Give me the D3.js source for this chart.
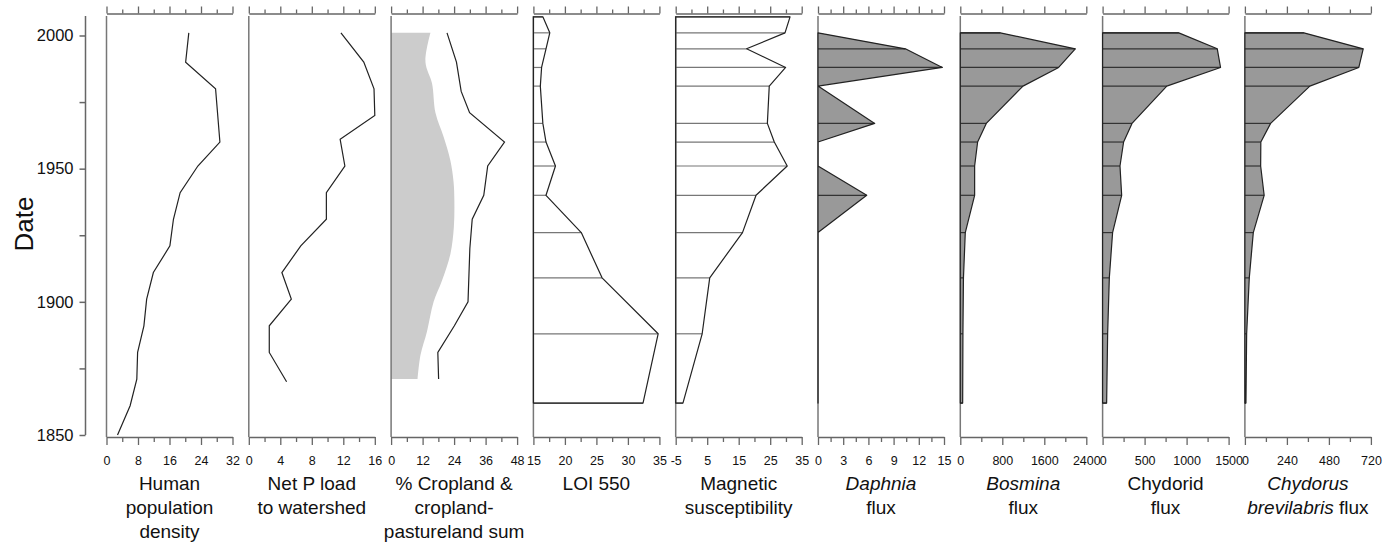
<!DOCTYPE html>
<html>
<head>
<meta charset="utf-8">
<script src="https://cdn.jsdelivr.net/npm/d3@7"></script>
<style>
  body { margin: 0; background: #fff; }
  svg text { font-family: "Liberation Sans", Arial, sans-serif; fill: #111; }
</style>
</head>
<body>
<div id="chart"></div>
<script>
// census-style series (decadal)
var popYears = [2001, 1990, 1980, 1960, 1951, 1941, 1931, 1921, 1911, 1901, 1891, 1881, 1871, 1861, 1850];
var popValues = [20.9, 20.1, 27.7, 28.8, 23.2, 18.7, 17.0, 16.1, 11.9, 10.2, 9.5, 7.9, 7.7, 6.0, 2.8];

var pLoadYears = [2001, 1990, 1980, 1970, 1961, 1951, 1941, 1931, 1921, 1911, 1901, 1891, 1881, 1870];
var pLoadValues = [11.7, 14.6, 15.9, 16.0, 11.6, 12.2, 9.85, 9.85, 6.6, 4.2, 5.4, 2.6, 2.6, 4.8];

// cropland (shaded) and cropland-pastureland sum (line)
var cropYears = [2001, 1990, 1982, 1971, 1962, 1953, 1945, 1938, 1928, 1918, 1908, 1900, 1889, 1880, 1871];
var cropValues = [15.0, 13.1, 15.6, 16.9, 20.0, 22.6, 23.8, 24.1, 23.9, 22.6, 19.4, 16.2, 13.7, 11.2, 10.1];
var sumYears = [2001, 1990, 1979, 1971, 1960, 1951, 1940, 1931, 1920, 1900, 1891, 1881, 1871];
var sumValues = [21.3, 24.9, 26.7, 29.9, 43.2, 36.8, 35.3, 30.9, 30.0, 29.3, 24.1, 17.8, 18.1];

// sediment core levels
var coreYears = [2007, 2001, 1995, 1988, 1981, 1967, 1960, 1951, 1940, 1926, 1909, 1888, 1862];
var loiValues = [16.5, 17.6, 17.0, 16.3, 16.1, 16.5, 17.0, 18.5, 17.0, 22.6, 25.9, 34.8, 32.4];
var magValues = [31.3, 29.7, 17.5, 29.9, 24.7, 24.1, 26.3, 30.4, 20.5, 16.2, 5.8, 3.4, -2.7];

// zooplankton levels
var fluxYears = [2001, 1995, 1988, 1981, 1967, 1960, 1951, 1940, 1926, 1909, 1888, 1862];
var daphniaValues = [0, 10.4, 14.8, 0, 6.75, 0, 0, 5.8, 0, 0, 0, 0];
var bosminaValues = [762, 2190, 1873, 1194, 495, 330, 273, 273, 95, 60, 50, 45];
var chydoridValues = [907, 1365, 1404, 764, 350, 250, 207, 227, 119, 80, 60, 48];
var chydorusValues = [337, 676, 651, 371, 147, 91, 90, 110, 48, 25, 10, 6];

// axis ticks
var popTicks = [0, 8, 16, 24, 32];
var pLoadTicks = [0, 4, 8, 12, 16];
var cropTicks = [0, 12, 24, 36, 48];
var loiTicks = [15, 20, 25, 30, 35];
var magTicks = [-5, 5, 15, 25, 35];
var daphniaTicks = [0, 3, 6, 9, 12, 15];
var bosminaTicks = [0, 800, 1600, 2400];
var chydoridTicks = [0, 500, 1000, 1500];
var chydorusTicks = [0, 240, 480, 720];
var dateTicks = [1850, 1875, 1900, 1925, 1950, 1975, 2000];

var width = 1397, height = 544;
var panelW = 126, panelStep = 142.3, firstLeft = 106.5;
var topY = 16, topAxisY = 13.5, bottomAxisY = 437;

var svg = d3.select("#chart").append("svg")
  .attr("width", width).attr("height", height);

var y = d3.scaleLinear().domain([1850, 2000]).range([435, 35.5]);

// Date axis
svg.append("g")
  .attr("transform", "translate(85.5,0)")
  .call(d3.axisLeft(y)
    .tickValues(dateTicks)
    .tickSizeInner(6).tickSizeOuter(0).tickPadding(6)
    .tickFormat(function(d) { return d % 50 == 0 ? d : ""; }))
  .call(function(g) {
    g.select(".domain").attr("d", "M0," + topY + "V435").attr("stroke", "#666").attr("stroke-width", 1.5);
    g.selectAll(".tick line").attr("stroke", "#666").attr("stroke-width", 1.5);
    g.selectAll("text").style("font-size", "16.5px").attr("fill", "#111");
  });

svg.append("text")
  .attr("transform", "translate(33,224)rotate(-90)")
  .style("text-anchor", "middle")
  .style("font-size", "26px")
  .text("Date");

var panels = [
  { type: "line", ticks: popTicks, title: [["Human"], ["population"], ["density"]],
    series: [{ years: popYears, values: popValues }] },
  { type: "line", ticks: pLoadTicks, title: [["Net P load"], ["to watershed"]],
    series: [{ years: pLoadYears, values: pLoadValues }] },
  { type: "crop", ticks: cropTicks, title: [["% Cropland &"], ["cropland-"], ["pastureland sum"]] },
  { type: "bars", ticks: loiTicks, title: [["LOI 550"]], years: coreYears, values: loiValues,
    fill: "none", bar: "#777" },
  { type: "bars", ticks: magTicks, title: [["Magnetic"], ["susceptibility"]], years: coreYears, values: magValues,
    fill: "none", bar: "#777" },
  { type: "bars", ticks: daphniaTicks, title: [[{ t: "Daphnia", i: true }], ["flux"]], years: fluxYears, values: daphniaValues,
    fill: "#999", bar: "#333" },
  { type: "bars", ticks: bosminaTicks, title: [[{ t: "Bosmina", i: true }], ["flux"]], years: fluxYears, values: bosminaValues,
    fill: "#999", bar: "#333" },
  { type: "bars", ticks: chydoridTicks, title: [["Chydorid"], ["flux"]], years: fluxYears, values: chydoridValues,
    fill: "#999", bar: "#333" },
  { type: "bars", ticks: chydorusTicks, title: [[{ t: "Chydorus", i: true }], [{ t: "brevilabris", i: true }, " flux"]],
    years: fluxYears, values: chydorusValues, fill: "#999", bar: "#333" }
];

panels.forEach(function(p, i) {
  var left = firstLeft + i * panelStep;
  var ticks = p.ticks;
  var x = d3.scaleLinear()
    .domain([ticks[0], ticks[ticks.length - 1]])
    .range([0, panelW]);
  var minor = [];
  for (var k = 0; k < ticks.length - 1; k++) minor.push((ticks[k] + ticks[k + 1]) / 2);

  var g = svg.append("g").attr("transform", "translate(" + left + ",0)");

  // data
  if (p.type == "line") {
    p.series.forEach(function(s) {
      var pts = s.years.map(function(yr, j) { return [x(s.values[j]), y(yr)]; });
      g.append("path")
        .attr("d", d3.line()(pts))
        .attr("fill", "none").attr("stroke", "#222").attr("stroke-width", 1.2);
    });
  } else if (p.type == "crop") {
    var area = d3.area()
      .curve(d3.curveCatmullRom)
      .x0(x(0))
      .x1(function(d) { return x(d[1]); })
      .y(function(d) { return y(d[0]); });
    g.append("path")
      .attr("d", area(cropYears.map(function(yr, j) { return [yr, cropValues[j]]; })))
      .attr("fill", "#cccccc");
    g.append("path")
      .attr("d", d3.line()(sumYears.map(function(yr, j) { return [x(sumValues[j]), y(yr)]; })))
      .attr("fill", "none").attr("stroke", "#222").attr("stroke-width", 1.2);
  }

  // panel vertical axis
  g.append("line")
    .attr("x1", 0).attr("x2", 0).attr("y1", topY).attr("y2", bottomAxisY)
    .attr("stroke", "#777").attr("stroke-width", 1.5);

  if (p.type == "bars") {
    var x0 = x(ticks[0]);
    var pts = [[x0, y(p.years[0])]];
    p.years.forEach(function(yr, j) { pts.push([x(p.values[j]), y(yr)]); });
    pts.push([x0, y(p.years[p.years.length - 1])]);
    g.append("path")
      .attr("d", d3.line()(pts) + "Z")
      .attr("fill", p.fill).attr("stroke", "none");
    g.selectAll(".bar")
      .data(p.years)
      .enter().append("line")
      .attr("x1", x0)
      .attr("x2", function(d, j) { return x(p.values[j]); })
      .attr("y1", function(d) { return y(d); })
      .attr("y2", function(d) { return y(d); })
      .attr("stroke", p.bar).attr("stroke-width", 1.2);
    g.append("path")
      .attr("d", d3.line()(pts) + "Z")
      .attr("fill", "none").attr("stroke", "#222").attr("stroke-width", 1.2)
      .attr("stroke-linejoin", "round");
  }

  // top axis
  var top = g.append("g").attr("transform", "translate(0," + topAxisY + ")");
  top.call(d3.axisTop(x).tickValues(ticks).tickSizeInner(7).tickSizeOuter(0).tickFormat(""));
  top.append("g").call(d3.axisTop(x).tickValues(minor).tickSizeInner(4).tickSizeOuter(0).tickFormat(""))
    .select(".domain").remove();
  top.selectAll("path, line").attr("stroke", "#666").attr("stroke-width", 1.3);

  // bottom axis
  var bot = g.append("g").attr("transform", "translate(0," + bottomAxisY + ")");
  bot.call(d3.axisBottom(x).tickValues(ticks).tickSizeInner(8).tickSizeOuter(0).tickPadding(11)
    .tickFormat(function(d) { return String(d); }));
  bot.append("g").call(d3.axisBottom(x).tickValues(minor).tickSizeInner(5).tickSizeOuter(0).tickFormat(""))
    .select(".domain").remove();
  bot.selectAll("path, line").attr("stroke", "#666").attr("stroke-width", 1.3);
  bot.selectAll("text").style("font-size", "12.5px").attr("fill", "#111");

  // title
  var title = g.append("text")
    .attr("x", panelW / 2)
    .style("text-anchor", "middle")
    .style("font-size", "19px");
  p.title.forEach(function(line, li) {
    line.forEach(function(part, pi) {
      var ts = title.append("tspan");
      if (pi == 0) ts.attr("x", panelW / 2).attr("y", 490 + li * 24);
      if (typeof part == "string") ts.text(part);
      else ts.text(part.t).style("font-style", part.i ? "italic" : "normal");
    });
  });
});
</script>
</body>
</html>
